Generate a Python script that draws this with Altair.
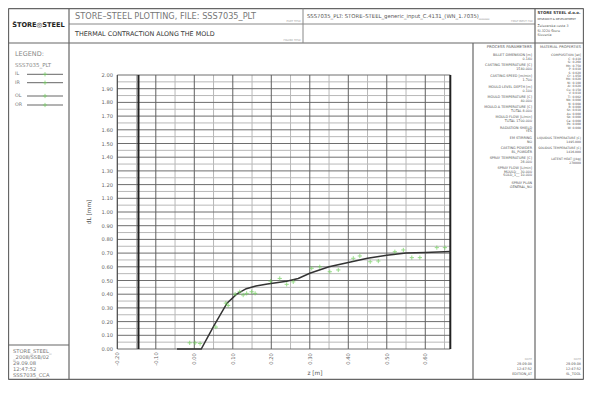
import altair as alt
import pandas as pd

FONT = "DejaVu Sans, sans-serif"

# ---------------- data ----------------
series = ["IL", "IR", "OL", "OR"]

curve_z = [-0.045, 0.018, 0.05, 0.085, 0.11, 0.135, 0.16, 0.19, 0.24, 0.27, 0.30,
           0.35, 0.40, 0.45, 0.50, 0.55, 0.60, 0.665]
curve_dl = [0.0, 0.0, 0.165, 0.335, 0.40, 0.44, 0.46, 0.475, 0.495, 0.515, 0.553,
            0.60, 0.632, 0.662, 0.685, 0.70, 0.705, 0.712]

IL_z = [-0.012, 0.082, 0.127, 0.198, 0.305, 0.413, 0.521, 0.630]
IL_dl = [0.045, 0.335, 0.394, 0.495, 0.589, 0.662, 0.710, 0.740]
IR_z = [0.002, 0.088, 0.136, 0.222, 0.326, 0.430, 0.543, 0.651]
IR_dl = [0.045, 0.318, 0.406, 0.515, 0.600, 0.679, 0.723, 0.740]
OL_z = [0.015, 0.106, 0.149, 0.240, 0.352, 0.457, 0.565]
OL_dl = [0.040, 0.400, 0.418, 0.472, 0.564, 0.637, 0.667]
OR_z = [0.056, 0.118, 0.158, 0.257, 0.374, 0.478, 0.586]
OR_dl = [0.160, 0.418, 0.406, 0.490, 0.577, 0.642, 0.667]

meniscus_z = [-0.145]
mould_end_z = [0.665]

x_major = [-0.10, 0.00, 0.10, 0.20, 0.30, 0.40, 0.50, 0.60]
x_minor = [-0.15, -0.05, 0.05, 0.15, 0.25, 0.35, 0.45, 0.55, 0.65]
x_tick_labels = [-0.20, -0.10, 0.00, 0.10, 0.20, 0.30, 0.40, 0.50, 0.60]
y_major = [round(0.1 * i, 2) for i in range(0, 21)]
y_minor = [round(0.05 + 0.1 * i, 2) for i in range(0, 20)]

process_params = [
    ("PROCESS PARAMETERS", 3.9), ("BILLET DIMENSION [m]", 3.4), ("0.140", 3.3),
    ("CASTING TEMPERATURE [C]", 3.4), ("1540.000", 3.3),
    ("CASTING SPEED [m/min]", 3.4), ("1.700", 3.3),
    ("MOULD LEVEL DEPTH [m]", 3.4), ("0.100", 3.3),
    ("MOULD TEMPERATURE [C]", 3.4), ("40.000", 3.3),
    ("MOULD Δ TEMPERATURE [C]", 3.4), ("TOTAL    8.000", 3.3),
    ("MOULD FLOW [L/min]", 3.4), ("TOTAL  1700.000", 3.3),
    ("RADIATION SHIELD", 3.4), ("YES", 3.3),
    ("EM STIRRING", 3.4), ("NO", 3.3),
    ("CASTING POWDER", 3.4), ("BL_POWDER", 3.3),
    ("SPRAY TEMPERATURE [C]", 3.4), ("28.000", 3.3),
    ("SPRAY FLOW [L/min]", 3.4), ("MOULD__    30.000", 3.3), ("SOLD_1__   10.000", 3.3),
    ("SPRAY PLAN", 3.4), ("GENERAL_NO", 3.3),
]
process_py = [47, 55, 58.5, 65, 68.5, 76, 79.5, 87, 90.5, 97, 100.5, 107, 110.5,
              117, 120.5, 127.5, 131, 138, 141.5, 148, 151.5, 158, 161.5,
              168, 171.5, 175, 183, 186.5]

elements = ["C", "Si", "Mn", "P", "S", "Cr", "Mo", "Ni", "Al", "Cu", "V", "Ti",
            "Nb", "N", "B", "Sn", "As", "Sb", "Ca", "Pb", "W"]
element_wt = [0.410, 0.260, 0.750, 0.010, 0.020, 1.050, 0.020, 0.100, 0.020, 0.150,
              0.010, 0.002, 0.000, 0.008, 0.000, 0.010, 0.000, 0.000, 0.000, 0.000, 0.000]
material_tail = [("LIQUIDUS TEMPERATURE [C]", 3.1), ("1495.000", 3.1),
                 ("SOLIDUS TEMPERATURE [C]", 3.1), ("1416.000", 3.1),
                 ("LATENT HEAT [J/kg]", 3.1), ("270000", 3.1)]
material_tail_py = [138, 141.5, 148, 151.5, 159, 163]

# ---------------- scales ----------------
XS = alt.Scale(domain=[-0.2, 0.665], range=[109.3, 442.3], nice=False, zero=False)
YS = alt.Scale(domain=[0, 2], range=[341, 67], nice=False, zero=False)

# ---------------- helpers ----------------
def text_layer(items, align="left", weight="normal", angle=0):
    df = pd.DataFrame(items, columns=["t", "x", "y", "fs", "col"])
    return alt.Chart(df).mark_text(
        align=align, baseline="middle", font=FONT, fontWeight=weight, angle=angle
    ).encode(
        x=alt.X("x:Q", scale=None, axis=None),
        y=alt.Y("y:Q", scale=None, axis=None),
        text="t:N",
        size=alt.Size("fs:Q", scale=None, legend=None),
        color=alt.Color("col:N", scale=None, legend=None),
    )


def seg_layer(segs):
    df = pd.DataFrame(segs, columns=["x1", "y1", "x2", "y2", "w", "c"])
    return alt.Chart(df).mark_rule().encode(
        x=alt.X("x1:Q", scale=None, axis=None), x2="x2:Q",
        y=alt.Y("y1:Q", scale=None, axis=None), y2="y2:Q",
        strokeWidth=alt.StrokeWidth("w:Q", scale=None, legend=None),
        color=alt.Color("c:N", scale=None, legend=None),
    )


layers = []

# ---------------- sheet frame ----------------
FR = "#666"
frame = [
    (0.5, 0.5, 575.5, 0.5, 1.3, FR), (0.5, 371.5, 575.5, 371.5, 1.3, FR),
    (0.5, 0.5, 0.5, 371.5, 1.3, FR), (575.5, 0.5, 575.5, 371.5, 1.3, FR),
    (0.5, 35, 575.5, 35, 1.2, FR), (61, 16, 527, 16, 1.0, "#888"),
    (61, 0.5, 61, 371.5, 1.2, FR), (295, 0.5, 295, 35, 1.0, "#888"),
    (527, 0.5, 527, 371.5, 1.2, FR), (465, 35, 465, 371.5, 1.2, FR),
    (0.5, 337, 61, 337, 1.2, FR),
]
layers.append(seg_layer(frame))

# ---------------- grid ----------------
gv_minor = pd.DataFrame({"z": x_minor, "lo": 0.0, "hi": 2.0})
gv_major = pd.DataFrame({"z": x_major, "lo": 0.0, "hi": 2.0})
gh_minor = pd.DataFrame({"dl": y_minor, "a": -0.2, "b": 0.665})
gh_major = pd.DataFrame({"dl": y_major, "a": -0.2, "b": 0.665})

layers.append(alt.Chart(gh_minor).mark_rule(color="#b8b8b8", strokeWidth=1).encode(
    x=alt.X("a:Q", scale=XS, axis=None), x2="b:Q", y=alt.Y("dl:Q", scale=YS, axis=None)))
layers.append(alt.Chart(gv_minor).mark_rule(color="#b8b8b8", strokeWidth=1).encode(
    x=alt.X("z:Q", scale=XS, axis=None), y=alt.Y("lo:Q", scale=YS, axis=None), y2="hi:Q"))
layers.append(alt.Chart(gh_major).mark_rule(color="#6e6e6e", strokeWidth=1).encode(
    x=alt.X("a:Q", scale=XS, axis=None), x2="b:Q", y=alt.Y("dl:Q", scale=YS, axis=None)))
layers.append(alt.Chart(gv_major).mark_rule(color="#606060", strokeWidth=1).encode(
    x=alt.X("z:Q", scale=XS, axis=None), y=alt.Y("lo:Q", scale=YS, axis=None), y2="hi:Q"))

# axis line and thick markers
axis_df = pd.DataFrame({"z": [-0.2], "lo": [0.0], "hi": [2.0]})
layers.append(alt.Chart(axis_df).mark_rule(color="#444", strokeWidth=1.2).encode(
    x=alt.X("z:Q", scale=XS, axis=None), y=alt.Y("lo:Q", scale=YS, axis=None), y2="hi:Q"))
thick_df = pd.DataFrame({"z": meniscus_z + mould_end_z, "lo": 0.0, "hi": 2.0})
layers.append(alt.Chart(thick_df).mark_rule(color="#222", strokeWidth=2).encode(
    x=alt.X("z:Q", scale=XS, axis=None), y=alt.Y("lo:Q", scale=YS, axis=None), y2="hi:Q"))

# ---------------- tick labels ----------------
xt = pd.DataFrame({"z": x_tick_labels, "lab": [f"{v:.2f}" for v in x_tick_labels]})
layers.append(alt.Chart(xt).mark_text(angle=270, align="center", baseline="middle",
                                      font=FONT, fontSize=5.2, color="#666").encode(
    x=alt.X("z:Q", scale=XS, axis=None), y=alt.value(351), text="lab:N"))
yt = pd.DataFrame({"dl": y_major, "lab": [f"{v:.2f}" for v in y_major]})
layers.append(alt.Chart(yt).mark_text(align="right", baseline="middle",
                                      font=FONT, fontSize=5.2, color="#666").encode(
    x=alt.value(105), y=alt.Y("dl:Q", scale=YS, axis=None), text="lab:N"))

# ---------------- data marks ----------------
curve = pd.DataFrame({"z": curve_z, "dl": curve_dl})
layers.append(alt.Chart(curve).mark_line(color="#333", strokeWidth=1.5).encode(
    x=alt.X("z:Q", scale=XS, axis=None), y=alt.Y("dl:Q", scale=YS, axis=None)))

pts = pd.concat([
    pd.DataFrame({"z": IL_z, "dl": IL_dl, "s": "IL"}),
    pd.DataFrame({"z": IR_z, "dl": IR_dl, "s": "IR"}),
    pd.DataFrame({"z": OL_z, "dl": OL_dl, "s": "OL"}),
    pd.DataFrame({"z": OR_z, "dl": OR_dl, "s": "OR"}),
])
CROSS = "M-1,0L1,0M0,-1L0,1"
layers.append(alt.Chart(pts).mark_point(shape=CROSS, size=18, filled=False,
                                        color="#6fcf5a", strokeWidth=1).encode(
    x=alt.X("z:Q", scale=XS, axis=None), y=alt.Y("dl:Q", scale=YS, axis=None)))

# ---------------- legend ----------------
leg_y = [66.3, 74.7, 88, 97]
leg_lines = [(19, y, 55, y, 1, "#666") for y in leg_y]
layers.append(seg_layer(leg_lines))
leg_m = pd.DataFrame({"x": [37] * 4, "y": leg_y})
layers.append(alt.Chart(leg_m).mark_point(shape=CROSS, size=18, filled=False,
                                          color="#6fcf5a", strokeWidth=1).encode(
    x=alt.X("x:Q", scale=None, axis=None), y=alt.Y("y:Q", scale=None, axis=None)))

left_items = [
    ("STORE–STEEL PLOTTING, FILE: SSS7035_PLT", 67, 8.5, 8.2, "#777"),
    ("THERMAL CONTRACTION ALONG THE MOLD", 67, 26, 6.4, "#333"),
    ("SSS7035_PLT: STORE–STEEL_generic_input_C.4131_(WN_1.7035)____", 299, 8, 5.3, "#555"),
    ("RESEARCH & DEVELOPMENT", 529.5, 10.5, 2.7, "#444"),
    ("Železarska cesta 3", 529.5, 18, 3.3, "#555"),
    ("SI-3220 Štore", 529.5, 22.5, 3.3, "#555"),
    ("Slovenia", 529.5, 27, 3.3, "#555"),
    ("LEGEND:", 7, 46, 6.5, "#888"),
    ("SSS7035_PLT", 7, 57, 5.5, "#888"),
    ("STORE_STEEL_", 5, 343, 5.2, "#777"),
    ("_2008/SSB/02", 5, 349, 5.2, "#777"),
    ("29.09.08", 5, 355, 5.2, "#777"),
    ("12:47:52", 5, 361, 5.2, "#777"),
    ("SSS7035_CCA", 5, 367, 5.2, "#777"),
]
for s, y in zip(series, leg_y):
    left_items.append((s, 7, y, 4.8, "#777"))
layers.append(text_layer(left_items, "left"))

layers.append(text_layer([("STORE STEEL d.o.o.", 529.5, 4.8, 3.9, "#333")], "left", "bold"))
layers.append(text_layer([("ŠTORE◎STEEL", 30.5, 17, 6.6, "#222")], "center", "bold"))

right_items = [
    ("PLOT TITLE", 293, 13.5, 2.6, "#999"),
    ("FIGURE TITLE", 293, 32.5, 2.6, "#999"),
    ("FIRST INPUT FILE", 525, 13.5, 2.6, "#999"),
]
for (t, fs), py in zip(process_params, process_py):
    right_items.append((t, 524, py - 8, fs, "#555"))
right_items.append(("MATERIAL PROPERTIES", 573, 39, 3.6, "#555"))
right_items.append(("COMPOSITION [wt]", 573, 47, 3.2, "#555"))
for i, (e, w) in enumerate(zip(elements, element_wt)):
    right_items.append((f"{e}:  {w:.3f}", 573, 50.5 + 3.45 * i, 3.0, "#555"))
for (t, fs), py in zip(material_tail, material_tail_py):
    right_items.append((t, 573, py - 8, fs, "#555"))
for xr, last in [(524, "EDITION_AT"), (573, "SL_TOOL")]:
    right_items += [
        ("DATE", xr, 351, 2.8, "#aaa"),
        ("29.09.08", xr, 356, 3.4, "#555"),
        ("12:47:52", xr, 361, 3.4, "#555"),
        (last, xr, 366, 3.4, "#555"),
    ]
layers.append(text_layer(right_items, "right"))

layers.append(text_layer([("dL [mm]", 81, 204, 5.8, "#555")], "center", angle=270))
layers.append(text_layer([("z [m]", 307, 365, 5.8, "#555")], "center"))

chart = alt.layer(*layers).resolve_scale(
    x="independent", y="independent", size="independent",
    color="independent", strokeWidth="independent"
).properties(
    width=576, height=372, padding=0,
    autosize=alt.AutoSizeParams(type="none"),
).configure_view(stroke=None).configure(background="white")

chart.save("out.html", embed_options={"renderer": "svg", "actions": False})
